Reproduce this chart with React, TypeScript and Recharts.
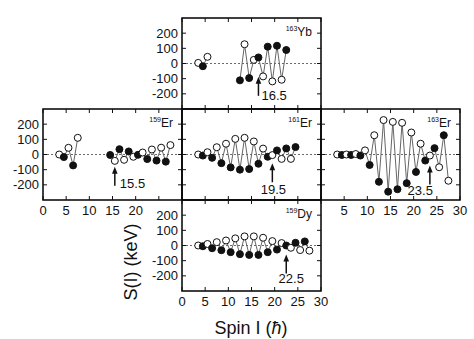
import { ComposedChart, Line, XAxis, YAxis, ReferenceLine, ReferenceArea, ReferenceDot } from 'recharts';

// S(I) staggering in keV; null marks a gap in the band
const yb163Spins = [3.5, 4.5, 5.5, 6.5, 7.5, 8.5, 9.5, 10.5, 11.5, 12.5, 13.5, 14.5, 15.5, 16.5, 17.5, 18.5, 19.5, 20.5, 21.5, 22.5];
const yb163S = [4, -18, 44, null, null, null, null, null, null, -111, 127, -96, 24, 40, -85, 111, -118, 117, -107, 89];

const er159Spins = [3.5, 4.5, 5.5, 6.5, 7.5, 8.5, 9.5, 10.5, 11.5, 12.5, 13.5, 14.5, 15.5, 16.5, 17.5, 18.5, 19.5, 20.5, 21.5, 22.5, 23.5, 24.5, 25.5, 26.5, 27.5];
const er159S = [0, -17, 44, -72, 110, null, null, null, null, null, null, -3, -42, 35, -35, 20, -15, -2, 13, -30, 33, -40, 45, -47, 62];

const er161Spins = [3.5, 4.5, 5.5, 6.5, 7.5, 8.5, 9.5, 10.5, 11.5, 12.5, 13.5, 14.5, 15.5, 16.5, 17.5, 18.5, 19.5, 20.5, 21.5, 22.5, 23.5, 24.5];
const er161S = [0, -7, 15, -22, 48, -57, 71, -85, 103, -100, 110, -96, 86, -61, 39, -15, -4, 27, -29, 40, -29, 49];

const er163Spins = [3.5, 4.5, 5.5, 6.5, 7.5, 8.5, 9.5, 10.5, 11.5, 12.5, 13.5, 14.5, 15.5, 16.5, 17.5, 18.5, 19.5, 20.5, 21.5, 22.5, 23.5, 24.5, 25.5, 26.5, 27.5];
const er163S = [0, -3, 0, -3, 3, -7, 27, -69, 127, -180, 227, -245, 215, -229, 209, -189, 145, -115, 71, -40, -7, 42, -84, 127, -173];

const dy159Spins = [3.5, 4.5, 5.5, 6.5, 7.5, 8.5, 9.5, 10.5, 11.5, 12.5, 13.5, 14.5, 15.5, 16.5, 17.5, 18.5, 19.5, 20.5, 21.5, 22.5, 23.5, 24.5, 25.5, 26.5, 27.5];
const dy159S = [0, -5, 10, -18, 22, -31, 33, -44, 47, -57, 60, -62, 60, -62, 51, -44, 29, -27, 16, 0, -15, 18, -30, 27, -34];

// arrow: [spin, S at arrow tip]
const yb163Arrow = [16.5, -88];
const er159Arrow = [15.5, -80];
const er161Arrow = [19.5, -58];
const er163Arrow = [23.5, -72];
const dy159Arrow = [22.5, -60];

const xTicks = [0, 5, 10, 15, 20, 25, 30];
const yTicks = [-200, -100, 0, 100, 200];

const FONT = 'Liberation Sans, Arial, Helvetica, sans-serif';
const INK = '#111';
const PW = 139;
const PH = 91;
const YW = 45;
const MT = 10;

const rows = (spins: number[], s: (number | null)[]) => spins.map((spin, i) => ({ spin, s: s[i] }));

const panels = [
  { id: 'yb163', mass: '163', el: 'Yb', data: rows(yb163Spins, yb163S), arrow: yb163Arrow, left: 182, top: 18, yLab: true, xLab: [] as number[], lab: { dx: 3, dy: 23, anchor: 'start' } },
  { id: 'er159', mass: '159', el: 'Er', data: rows(er159Spins, er159S), arrow: er159Arrow, left: 43, top: 109, yLab: true, xLab: [0, 5, 10, 15, 20], lab: { dx: 5, dy: 21, anchor: 'start' } },
  { id: 'er161', mass: '161', el: 'Er', data: rows(er161Spins, er161S), arrow: er161Arrow, left: 182, top: 109, yLab: false, xLab: [] as number[], lab: { dx: 1, dy: 31, anchor: 'middle' } },
  { id: 'er163', mass: '163', el: 'Er', data: rows(er163Spins, er163S), arrow: er163Arrow, left: 321, top: 109, yLab: false, xLab: [5, 10, 15, 20, 25, 30], lab: { dx: 3, dy: 30, anchor: 'end' } },
  { id: 'dy159', mass: '159', el: 'Dy', data: rows(dy159Spins, dy159S), arrow: dy159Arrow, left: 182, top: 200, yLab: true, xLab: xTicks, lab: { dx: 5, dy: 28, anchor: 'middle' } },
];

function XTick({ x, y, payload, show }: any) {
  const v = payload.value;
  return (
    <g>
      <line x1={x} x2={x} y1={y} y2={y - 4} stroke={INK} />
      <line x1={x} x2={x} y1={y - PH} y2={y - PH + 4} stroke={INK} />
      {show.includes(v) && (
        <text x={x} y={y + 15} textAnchor="middle" fontSize={13} fontFamily={FONT} fill={INK}>{v}</text>
      )}
    </g>
  );
}

function YTick({ x, y, payload, show }: any) {
  return (
    <g>
      <line x1={x} x2={x + 4} y1={y} y2={y} stroke={INK} />
      <line x1={x + PW} x2={x + PW - 4} y1={y} y2={y} stroke={INK} />
      {show && (
        <text x={x - 4} y={y + 4.5} textAnchor="end" fontSize={13} fontFamily={FONT} fill={INK}>{payload.value}</text>
      )}
    </g>
  );
}

function SpinDot({ cx, cy, payload }: any) {
  if (cx == null || cy == null || payload.s == null) return <g />;
  const open = (payload.spin - 0.5) % 2 === 1;
  return <circle cx={cx} cy={cy} r={3.5} fill={open ? '#fff' : INK} stroke={INK} strokeWidth={1} />;
}

function Arrow({ cx, cy, text, lab }: any) {
  return (
    <g>
      <line x1={cx} x2={cx} y1={cy + 5} y2={cy + 19} stroke={INK} strokeWidth={1.5} />
      <path d={`M${cx},${cy} L${cx - 2.8},${cy + 7} L${cx + 2.8},${cy + 7} Z`} fill={INK} />
      <text x={cx + lab.dx} y={cy + lab.dy} textAnchor={lab.anchor} fontSize={13} fontFamily={FONT} fill={INK}>{text}</text>
    </g>
  );
}

function Panel({ p }: any) {
  return (
    <div style={{ position: 'absolute', left: p.left - YW, top: p.top - MT }}>
      <ComposedChart width={YW + PW + 12} height={MT + PH + 25} data={p.data} margin={{ top: MT, right: 12, left: 0, bottom: 0 }}>
        <XAxis dataKey="spin" type="number" domain={[0, 30]} ticks={xTicks} interval={0} height={25}
          tickSize={0} tickMargin={0} axisLine={false} tickLine={false}
          tick={(t: any) => <XTick key={t.index} {...t} show={p.xLab} />} />
        <YAxis type="number" domain={[-300, 300]} ticks={yTicks} interval={0} width={YW}
          tickSize={0} tickMargin={0} axisLine={false} tickLine={false}
          tick={(t: any) => <YTick key={t.index} {...t} show={p.yLab} />} />
        <ReferenceLine y={0} stroke="#444" strokeWidth={0.8} strokeDasharray="2 2" />
        <ReferenceArea x1={0} x2={30} y1={-300} y2={300} fill="none" fillOpacity={0} stroke="#000" strokeWidth={1.5} />
        <Line dataKey="s" stroke="#666" strokeWidth={1} isAnimationActive={false} connectNulls={false}
          dot={(d: any) => <SpinDot key={d.index} {...d} />} activeDot={false} />
        <ReferenceDot x={p.arrow[0]} y={p.arrow[1]} r={0}
          shape={(d: any) => <Arrow {...d} text={p.arrow[0].toFixed(1)} lab={p.lab} />} />
      </ComposedChart>
    </div>
  );
}

export default function App() {
  return (
    <div style={{ position: 'absolute', left: 0, top: 0, width: 474, height: 339, background: '#fff', overflow: 'hidden' }}>
      {panels.map((p) => <Panel key={p.id} p={p} />)}
      <svg width={474} height={339} style={{ position: 'absolute', left: 0, top: 0, pointerEvents: 'none' }}>
        {panels.map((p) => (
          <text key={p.id} x={p.left + PW - 9} y={p.top + 18} textAnchor="end" fontFamily={FONT} fill={INK}>
            <tspan fontSize={7} dy={-5}>{p.mass}</tspan>
            <tspan fontSize={12} dy={5}>{p.el}</tspan>
          </text>
        ))}
        <text transform="translate(137,262) rotate(-90)" textAnchor="middle" fontSize={18} fontFamily={FONT} fill={INK}>S(I) (keV)</text>
        <text x={251} y={334} textAnchor="middle" fontSize={18} fontFamily={FONT} fill={INK}>
          Spin I (<tspan fontStyle="italic">ħ</tspan>)
        </text>
      </svg>
    </div>
  );
}
